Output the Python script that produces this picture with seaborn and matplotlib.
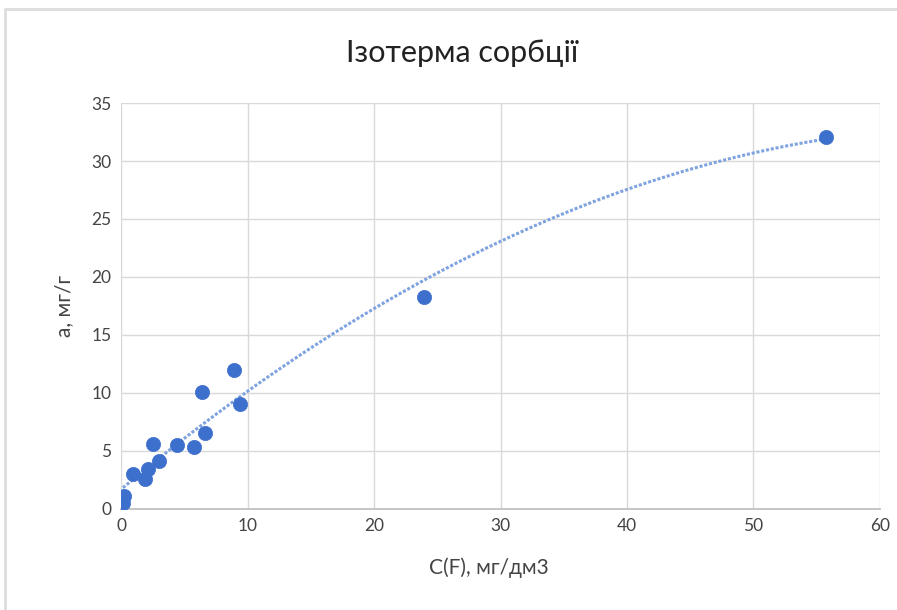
import numpy as np
import pandas as pd
import matplotlib.pyplot as plt
import seaborn as sns
from matplotlib.lines import Line2D

# дані з графіка (наближено)
c_f = [0.15, 0.25, 0.95, 1.9, 2.15, 2.5, 3.0, 4.4, 5.8, 6.4, 6.65, 8.95, 9.4, 23.95, 55.7]
a_mg = [0.5, 1.1, 3.0, 2.6, 3.4, 5.6, 4.1, 5.5, 5.3, 10.1, 6.5, 12.0, 9.0, 18.3, 32.1]

x_ticks = [0, 10, 20, 30, 40, 50, 60]
y_ticks = [0, 5, 10, 15, 20, 25, 30, 35]

df = pd.DataFrame({'C': c_f, 'a': a_mg})

sns.set_theme(style='whitegrid')
plt.rcParams['font.family'] = ['Lato', 'DejaVu Sans']

fig = plt.figure(figsize=(8.97, 6.1), dpi=100)
ax = fig.add_axes([0.135, 0.166, 0.846, 0.665])

# лінія тренду (поліном 2-го порядку)
sns.regplot(data=df, x='C', y='a', order=2, ci=None, ax=ax,
            scatter=False,
            line_kws={'color': '#7fa2e0', 'lw': 2.2, 'ls': (0, (1, 0.6))})
sns.scatterplot(data=df, x='C', y='a', ax=ax, color='#3d6fcc',
                s=105, marker='o', edgecolor='#3d6fcc', linewidth=0.5, zorder=5)

ax.set_xlim(0, 60)
ax.set_ylim(0, 35)
ax.set_xticks(x_ticks)
ax.set_yticks(y_ticks)
ax.tick_params(axis='both', labelsize=12.5, colors='#444444', length=0, pad=7)
ax.grid(True, color='#d9d9d9', lw=1)
for s in ['top', 'right', 'left']:
    ax.spines[s].set_visible(False)
ax.spines['bottom'].set_color('#bfbfbf')

ax.set_xlabel('C(F), мг/дм3', fontsize=15, color='#444444')
ax.set_ylabel('a, мг/г', fontsize=15, color='#444444', labelpad=12)
ax.xaxis.set_label_coords(0.485, -0.12)
fig.text(0.515, 0.913, 'Ізотерма сорбції', ha='center', va='center',
         fontsize=22, color='#222222')

# рамка зліва і зверху
fig.add_artist(Line2D([0.006, 1], [0.985, 0.985], color='#dddddd', lw=2,
                      transform=fig.transFigure))
fig.add_artist(Line2D([0.006, 0.006], [0, 0.985], color='#dddddd', lw=2,
                      transform=fig.transFigure))

fig.savefig('out.png', dpi=100)
